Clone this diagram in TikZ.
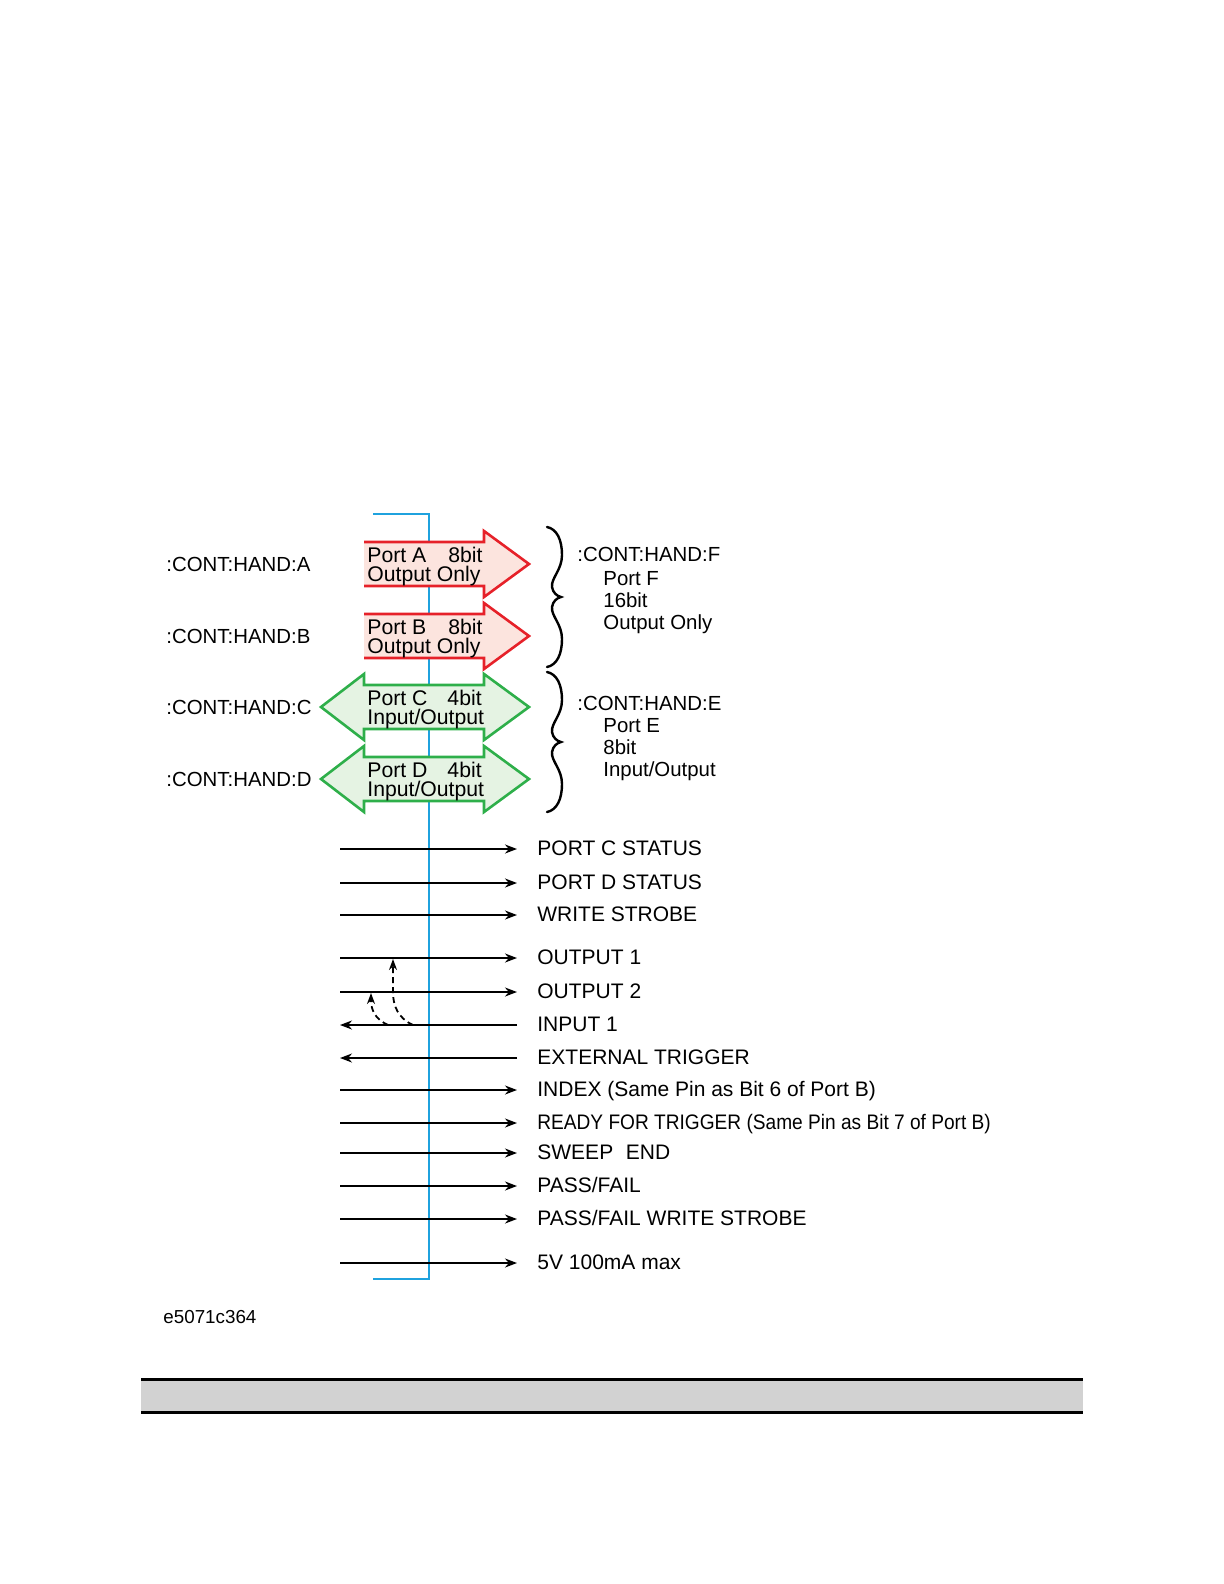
\documentclass[tikz,border=0pt]{standalone}
\usepackage{fontspec}
\setmainfont{Liberation Sans}
\usepackage{graphicx}
\usetikzlibrary{arrows.meta}
\definecolor{outc}{HTML}{E62129}
\definecolor{outfill}{HTML}{FCE4DE}
\definecolor{ioc}{HTML}{2EAF4A}
\definecolor{iofill}{HTML}{E5F3E3}
\definecolor{busc}{HTML}{1FA2DE}
\definecolor{barfill}{HTML}{D2D2D2}
\tikzset{
  bus/.style={draw=busc, line width=1pt},
  outport/.style={draw=outc, fill=outfill, line width=1.3pt, line join=miter},
  ioport/.style={draw=ioc, fill=iofill, line width=1.3pt, line join=miter},
  porttext/.style={font=\fontsize{10.6}{9.5}\selectfont, align=left, anchor=west, inner sep=0pt},
  handtext/.style={font=\fontsize{10.2}{12}\selectfont, anchor=base west, inner sep=0pt},
  sigtext/.style={font=\fontsize{10.5}{12}\selectfont, anchor=base west, inner sep=0pt},
  sigline/.style={line width=0.9pt},
  sigtip/.style={-{Stealth[length=6pt,width=4.5pt]}},
  feedback/.style={line width=0.9pt, dash pattern=on 3pt off 2pt, -{Stealth[length=5.5pt,width=4pt]}},
  handbrace/.style={line width=1.2pt, line cap=round},
}

\begin{document}
\begin{tikzpicture}[x=0.5pt, y=-0.5pt]
\useasboundingbox (0,0) rectangle (1224,1584);

% bus
\draw[bus] (373,514) -- (429,514) -- (429,1279) -- (373,1279);

% ports
\path[outport] (364,542) -- (484,542) -- (484,531) -- (529,564) -- (484,597) -- (484,586) -- (364,586);
\path[outport] (364,614) -- (484,614) -- (484,603) -- (529,636) -- (484,669) -- (484,658) -- (364,658);
\path[ioport] (364,685) -- (484,685) -- (484,674) -- (529,707) -- (484,740) -- (484,729) -- (364,729) -- (364,740) -- (321,707) -- (364,674) -- cycle;
\path[ioport] (364,757) -- (484,757) -- (484,746) -- (529,779) -- (484,812) -- (484,801) -- (364,801) -- (364,812) -- (321,779) -- (364,746) -- cycle;

\node[porttext] (pa) at (367,567) {Port A\hspace{11pt}8bit\\Output Only};
\node[porttext] (pb) at (367,639) {Port B\hspace{11pt}8bit\\Output Only};
\node[porttext] (pc) at (367,710) {Port C\hspace{10pt}4bit\\Input/Output};
\node[porttext] (pd) at (367,782) {Port D\hspace{10pt}4bit\\Input/Output};

\node[handtext] (ha) at (166,571) {:CONT:HAND:A};
\node[handtext] (hb) at (166,643) {:CONT:HAND:B};
\node[handtext] (hc) at (166,714) {:CONT:HAND:C};
\node[handtext] (hd) at (166,786) {:CONT:HAND:D};

% braces
\foreach \c in {597,742}
  \draw[handbrace, shift={(0,\c)}] (547,-70) .. controls (557,-68) and (562,-57) .. (562,-42)
    .. controls (562,-27) and (551,-19) .. (552,-10) .. controls (553,-4) and (557,-1) .. (561,0)
    .. controls (557,1) and (553,4) .. (552,10) .. controls (551,19) and (562,27) .. (562,42)
    .. controls (562,57) and (557,68) .. (547,70);

\node[handtext] (hf) at (577,561) {:CONT:HAND:F};
\node[handtext] (hf1) at (603,585) {Port F};
\node[handtext] (hf2) at (603,607) {16bit};
\node[handtext] (hf3) at (603,629) {Output Only};
\node[handtext] (he) at (577,710) {:CONT:HAND:E};
\node[handtext] (he1) at (603,732) {Port E};
\node[handtext] (he2) at (603,754) {8bit};
\node[handtext] (he3) at (603,776) {Input/Output};

% signal lines
\foreach \y/\txt/\dir [count=\i] in {
    849/PORT C STATUS/o,
    883/PORT D STATUS/o,
    915/WRITE STROBE/o,
    958/OUTPUT 1/o,
    992/OUTPUT 2/o,
    1025/INPUT 1/i,
    1058/EXTERNAL TRIGGER/i,
    1090/INDEX (Same Pin as Bit 6 of Port B)/o,
    1123/\scalebox{0.91}[1]{READY FOR TRIGGER (Same Pin as Bit 7 of Port B)}/o,
    1153/SWEEP\hspace{0.6em}END/o,
    1186/{PASS/FAIL}/o,
    1219/{PASS/FAIL WRITE STROBE}/o,
    1263/5V 100mA max/o}{
  \coordinate (sl\i) at (340,\y);
  \coordinate (sr\i) at (517,\y);
  \node[sigtext] (sig\i) at (537,\y+6) {\txt};
  \if\dir o
    \draw[sigline, sigtip] (sl\i) -- (sr\i);
  \else
    \draw[sigline, sigtip] (sr\i) -- (sl\i);
  \fi
}

% inputs echoed to outputs
\coordinate (d1s) at (413,1025);
\coordinate (d1e) at (393,959);
\coordinate (d2s) at (388,1025);
\coordinate (d2e) at (371,993);
\draw[feedback] (d1s) .. controls (398,1018) and (393,1006) .. (393,992) -- (d1e);
\draw[feedback] (d2s) .. controls (375,1019) and (371,1010) .. (d2e);

\node[font=\fontsize{9.4}{11}\selectfont, anchor=base west, inner sep=0pt] (fig) at (163,1323) {e5071c364};

% footer bar
\fill[barfill] (141,1381) rectangle (1083,1411);
\draw[line width=1.5pt] (141,1379.5) -- (1083,1379.5);
\draw[line width=1.5pt] (141,1412.5) -- (1083,1412.5);
\end{tikzpicture}
\end{document}
